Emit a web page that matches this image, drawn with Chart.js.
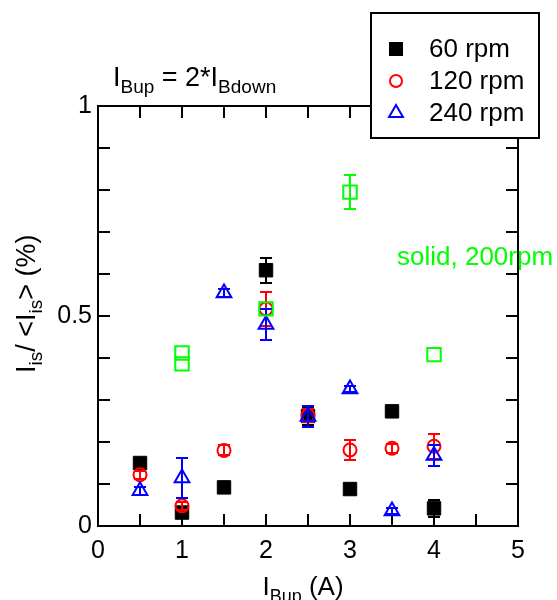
<!DOCTYPE html>
<html>
<head>
<meta charset="utf-8">
<script src="https://cdn.jsdelivr.net/npm/chart.js@4.4.1/dist/chart.umd.min.js"></script>
<style>
  html, body { margin: 0; padding: 0; background: #fff; }
  #wrap { width: 557px; height: 600px; }
</style>
</head>
<body>
<div id="wrap"><canvas id="chart" width="557" height="600"></canvas></div>
<script>
const FONT = '"Liberation Sans", Arial, Helvetica, sans-serif'
const GREEN = '#00ff00'

// x positions (I_Bup, A)
const currents = [0.5, 1, 1.5, 2, 2.5, 3, 3.5, 4]
// 60 rpm
const rpm60 = [0.15, 0.032, 0.092, 0.609, 0.262, 0.088, 0.273, 0.042]
const rpm60Err = [0.006, 0.006, 0.008, 0.03, 0.022, 0.01, 0.005, 0.02]
// 120 rpm
const rpm120 = [0.122, 0.048, 0.18, 0.517, 0.263, 0.181, 0.185, 0.19]
const rpm120Err = [0.01, 0.01, 0.012, 0.041, 0.016, 0.024, 0.01, 0.03]
// 240 rpm
const rpm240 = [0.084, 0.114, 0.555, 0.48, 0.261, 0.326, 0.036, 0.168]
const rpm240Err = [0.01, 0.048, 0.01, 0.037, 0.025, 0.008, 0.008, 0.025]
// solid, 200 rpm
const solidX = [1, 1, 2, 3, 4]
const solid200 = [0.412, 0.386, 0.517, 0.795, 0.408]
const solid200Err = [0, 0, 0, 0.04, 0]

const xTicks = [0, 1, 2, 3, 4, 5]
const yTicks = [0, 0.5, 1]

const toPoints = (xs, ys, errs) => ys.map((y, i) => ({ x: xs[i], y: y, err: errs[i] }))

// draw text made of [text, isSubscript] parts, returns width
function richWidth(ctx, parts, size, subSize) {
  let w = 0
  parts.forEach(([t, sub]) => {
    ctx.font = (sub ? subSize : size) + 'px ' + FONT
    w += ctx.measureText(t).width
  })
  return w
}
function drawRich(ctx, parts, x, y, size, subSize) {
  let cx = x
  ctx.textBaseline = 'alphabetic'
  ctx.textAlign = 'left'
  parts.forEach(([t, sub]) => {
    ctx.font = (sub ? subSize : size) + 'px ' + FONT
    ctx.fillText(t, cx, sub ? y + size * 0.27 : y)
    cx += ctx.measureText(t).width
  })
}

// error bars, drawn on top of each dataset's own markers
const errorBars = {
  id: 'errorBars',
  afterDatasetDraw(chart, args) {
    const ds = chart.data.datasets[args.index]
    const ys = chart.scales.y
    const ctx = chart.ctx
    ctx.save()
    ctx.strokeStyle = ds.borderColor
    ctx.lineWidth = 2
    args.meta.data.forEach((pt, i) => {
      const d = ds.data[i]
      if (!d.err) return
      const top = Math.round(ys.getPixelForValue(d.y + d.err))
      const bot = Math.round(ys.getPixelForValue(d.y - d.err))
      ctx.beginPath()
      ctx.moveTo(pt.x, top); ctx.lineTo(pt.x, bot)
      ctx.moveTo(pt.x - 6, top); ctx.lineTo(pt.x + 6, top)
      ctx.moveTo(pt.x - 6, bot); ctx.lineTo(pt.x + 6, bot)
      ctx.stroke()
    })
    ctx.restore()
  }
}

// frame with inward ticks on all four sides, and the annotations
const frame = {
  id: 'frame',
  beforeDatasetsDraw(chart) {
    const ctx = chart.ctx
    const { left, right, top, bottom } = chart.chartArea
    const xs = chart.scales.x
    const ys = chart.scales.y
    ctx.save()

    // green annotation (frame line crosses it)
    ctx.fillStyle = GREEN
    ctx.font = '26px ' + FONT
    ctx.textBaseline = 'alphabetic'
    ctx.fillText('solid, 200rpm', 397, 265)

    ctx.strokeStyle = '#000'
    ctx.lineWidth = 2
    ctx.strokeRect(left, top, right - left, bottom - top)
    ctx.beginPath()
    for (let v = 0.5; v < 5; v += 0.5) {
      const px = Math.round(xs.getPixelForValue(v))
      ctx.moveTo(px, bottom); ctx.lineTo(px, bottom - 12)
      ctx.moveTo(px, top); ctx.lineTo(px, top + 12)
    }
    for (let v = 1; v < 10; v++) {
      const py = Math.round(ys.getPixelForValue(v / 10))
      ctx.moveTo(left, py); ctx.lineTo(left + 12, py)
      ctx.moveTo(right, py); ctx.lineTo(right - 12, py)
    }
    ctx.stroke()
    ctx.restore()
  },
  afterDraw(chart) {
    const ctx = chart.ctx
    ctx.save()
    ctx.fillStyle = '#000'

    // title
    drawRich(ctx, [['I', false], ['Bup', true], [' = 2*I', false], ['Bdown', true]], 113, 86, 27, 19)

    // x axis title
    const xParts = [['I', false], ['Bup', true], [' (A)', false]]
    const xw = richWidth(ctx, xParts, 26, 18)
    drawRich(ctx, xParts, 303 - xw / 2, 595, 26, 18)

    // y axis title
    const yParts = [['I', false], ['is', true], ['/ <I', false], ['is', true], ['> (%)', false]]
    ctx.save()
    ctx.translate(35, 373)
    ctx.rotate(-Math.PI / 2)
    drawRich(ctx, yParts, 0, 0, 27, 19)
    ctx.restore()

    // legend box
    const bx = 371, by = 13, bw = 168, bh = 125
    ctx.fillStyle = '#fff'
    ctx.fillRect(bx, by, bw, bh)
    ctx.strokeStyle = '#000'
    ctx.lineWidth = 2
    ctx.strokeRect(bx, by, bw, bh)
    const rows = [49, 81, 113]
    const sets = chart.data.datasets.filter(d => d.inLegend)
    sets.forEach((ds, i) => {
      const y = rows[i]
      ctx.lineWidth = 2
      ctx.strokeStyle = ds.borderColor
      ctx.fillStyle = ds.backgroundColor
      Chart.helpers.drawPoint(ctx, {
        pointStyle: ds.pointStyle,
        radius: ds.legendRadius,
        borderWidth: 2,
        rotation: 0
      }, 396, y)
      ctx.fillStyle = '#000'
      ctx.font = '26px ' + FONT
      ctx.textBaseline = 'middle'
      ctx.fillText(ds.label, 429, y + 1)
    })
    ctx.restore()
  }
}

new Chart(document.getElementById('chart'), {
  type: 'scatter',
  data: {
    datasets: [
      {
        label: '60 rpm',
        data: toPoints(currents, rpm60, rpm60Err),
        pointStyle: 'rect',
        pointRadius: 9.5,
        legendRadius: 8.5,
        backgroundColor: '#000',
        borderColor: '#000',
        borderWidth: 1,
        inLegend: true,
        order: 3
      },
      {
        label: '120 rpm',
        data: toPoints(currents, rpm120, rpm120Err),
        pointStyle: 'circle',
        pointRadius: 6.5,
        legendRadius: 6,
        backgroundColor: 'rgba(0,0,0,0)',
        borderColor: '#ff0000',
        borderWidth: 2,
        inLegend: true,
        order: 2
      },
      {
        label: '240 rpm',
        data: toPoints(currents, rpm240, rpm240Err),
        pointStyle: 'triangle',
        pointRadius: 8.5,
        legendRadius: 8,
        backgroundColor: 'rgba(0,0,0,0)',
        borderColor: '#0000ff',
        borderWidth: 2,
        inLegend: true,
        order: 1
      },
      {
        label: 'solid, 200rpm',
        data: toPoints(solidX, solid200, solid200Err),
        pointStyle: 'rect',
        pointRadius: 9.5,
        backgroundColor: 'rgba(0,0,0,0)',
        borderColor: GREEN,
        borderWidth: 2,
        inLegend: false,
        order: 0
      }
    ]
  },
  options: {
    responsive: false,
    animation: false,
    events: [],
    layout: { padding: { top: 106, right: 39, left: 0, bottom: 0 } },
    plugins: { legend: { display: false }, tooltip: { enabled: false } },
    scales: {
      x: {
        type: 'linear',
        min: 0,
        max: 5,
        afterFit: (s) => { s.height = 74 },
        afterBuildTicks: (s) => { s.ticks = xTicks.map(v => ({ value: v })) },
        grid: { display: false, drawTicks: false, tickLength: 0 },
        border: { display: false },
        ticks: { color: '#000', font: { family: FONT, size: 25 }, padding: 10, maxRotation: 0 }
      },
      y: {
        type: 'linear',
        min: 0,
        max: 1,
        afterFit: (s) => { s.width = 98 },
        afterBuildTicks: (s) => { s.ticks = yTicks.map(v => ({ value: v })) },
        grid: { display: false, drawTicks: false, tickLength: 0 },
        border: { display: false },
        ticks: { color: '#000', font: { family: FONT, size: 25 }, padding: 6,
          callback: (v) => String(v) }
      }
    }
  },
  plugins: [errorBars, frame]
})
</script>
</body>
</html>
